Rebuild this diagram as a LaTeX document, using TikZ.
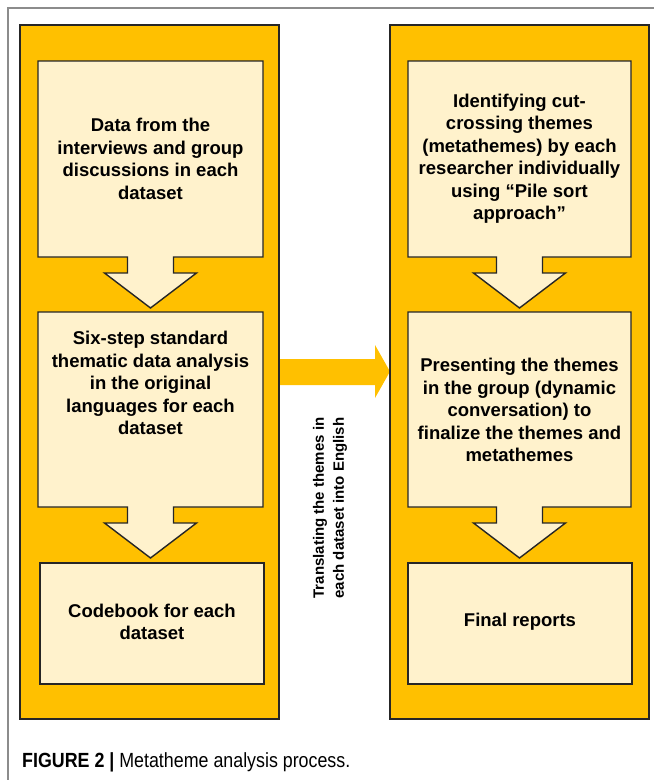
\documentclass[tikz,border=0pt]{standalone}
\usepackage{fontspec}
\setmainfont{Liberation Sans}
\definecolor{gold}{HTML}{FFC000}
\definecolor{cream}{HTML}{FFF2CC}
\definecolor{edgec}{HTML}{262626}
\definecolor{framec}{HTML}{8C8C8C}
\begin{document}
\begin{tikzpicture}[x=1pt,y=-1pt,
  outerbox/.style={fill=gold,draw=edgec,line width=1.4pt},
  innerbox/.style={fill=cream,draw=edgec,line width=1.4pt,line join=miter},
  boxtext/.style={font=\fontsize{18.5}{22.5}\selectfont\bfseries,align=center,text=black,inner sep=0pt},
  sidetext/.style={font=\fontsize{15}{20}\selectfont\bfseries,align=center,text=black,inner sep=0pt,rotate=90},
  captext/.style={anchor=base west,inner sep=0pt,text=black}]
\useasboundingbox (0,0) rectangle (654,780);
\fill[white] (0,0) rectangle (654,780);
\draw[framec,line width=1.5pt] (8,780) -- (8,8) -- (654,8);

% horizontal arrow
\fill[gold] (279,359) -- (375,359) -- (375,345) -- (390,371.5) -- (375,398) -- (375,385) -- (279,385) -- cycle;

% outer panels
\draw[outerbox] (20,25) rectangle (279,719);
\draw[outerbox] (390,25) rectangle (649,719);

% left column
\draw[innerbox] (38,61) -- (263,61) -- (263,257) -- (173.5,257) -- (173.5,273) -- (196.5,273) -- (150.5,308) -- (104.5,273) -- (127.5,273) -- (127.5,257) -- (38,257) -- cycle;
\draw[innerbox] (38,312) -- (263,312) -- (263,507) -- (173.5,507) -- (173.5,523) -- (196.5,523) -- (150.5,558) -- (104.5,523) -- (127.5,523) -- (127.5,507) -- (38,507) -- cycle;
\draw[innerbox] (40,563) rectangle (264,684);

% right column
\draw[innerbox] (408,61) -- (631,61) -- (631,257) -- (542.5,257) -- (542.5,273) -- (565.5,273) -- (519.5,308) -- (473.5,273) -- (496.5,273) -- (496.5,257) -- (408,257) -- cycle;
\draw[innerbox] (408,312) -- (631,312) -- (631,507) -- (542.5,507) -- (542.5,523) -- (565.5,523) -- (519.5,558) -- (473.5,523) -- (496.5,523) -- (496.5,507) -- (408,507) -- cycle;
\draw[innerbox] (408,563) rectangle (632,684);

% texts
\node[boxtext] (l1) at (150.5,159) {Data from the\\interviews and group\\discussions in each\\dataset};
\node[boxtext] (l2) at (150.5,383) {Six-step standard\\thematic data analysis\\in the original\\languages for each\\dataset};
\node[boxtext] (l3) at (152,622) {Codebook for each\\dataset};
\node[boxtext] (r1) at (519.5,158.5) {Identifying cut-\\crossing themes\\(metathemes) by each\\researcher individually\\using “Pile sort\\approach”};
\node[boxtext] (r2) at (519.5,410) {Presenting the themes\\in the group (dynamic\\conversation) to\\finalize the themes and\\metathemes};
\node[boxtext] (r3) at (520,622) {Final reports};
\node[sidetext] (tr) at (330,508) {Translating the themes in\\each dataset into English};

\node[captext] (cap) at (22,767) {\fontsize{20.5}{24}\selectfont\scalebox{0.87}[1]{\textbf{FIGURE 2 |} Metatheme analysis process.}};
\end{tikzpicture}
\end{document}
